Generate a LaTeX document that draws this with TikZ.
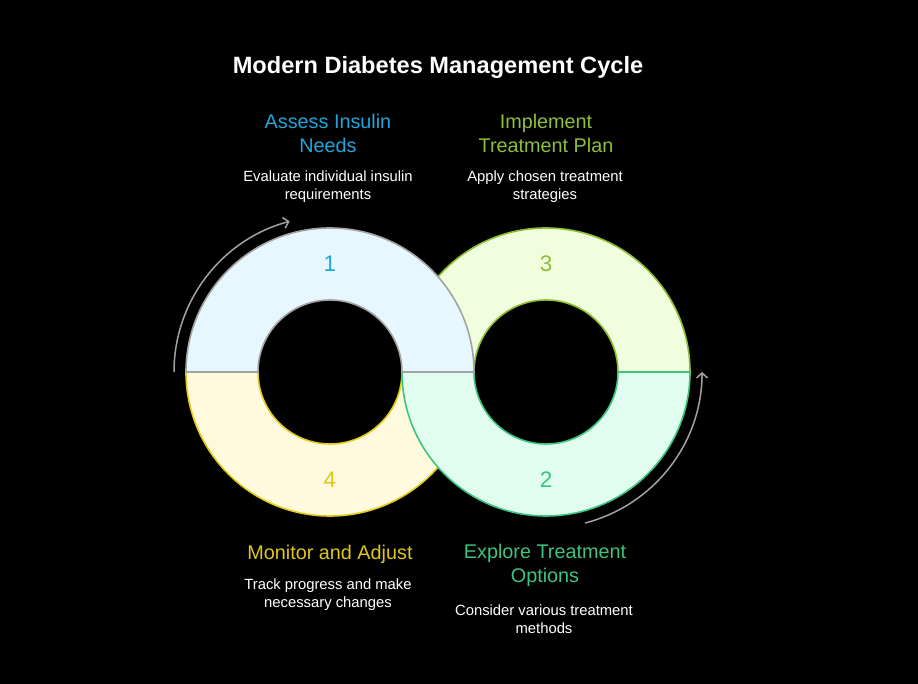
\documentclass[tikz,border=0pt]{standalone}
\usepackage{fontspec}
\setmainfont{Liberation Sans}
\usetikzlibrary{arrows.meta}
\definecolor{bluefill}{HTML}{E6F7FF}
\definecolor{bluetext}{HTML}{22A5DA}
\definecolor{ringgray}{HTML}{A3A3A3}
\definecolor{limefill}{HTML}{F1FEDD}
\definecolor{limeline}{HTML}{8DBE2E}
\definecolor{limetext}{HTML}{8DBF3A}
\definecolor{greenfill}{HTML}{E0FDEF}
\definecolor{greenline}{HTML}{3DC47E}
\definecolor{yellowfill}{HTML}{FFF9DD}
\definecolor{yellowline}{HTML}{E3CB1A}
\definecolor{yellowtext}{HTML}{DFC618}

\begin{document}
\begin{tikzpicture}[x=1pt, y=1pt,
  ring/.style={line width=1.6pt},
  num/.style={font=\fontsize{22.5}{26}\selectfont},
  head/.style={align=center, font=\fontsize{19.8}{24}\selectfont},
  desc/.style={align=center, text=white, font=\fontsize{14.8}{18}\selectfont},
  turn/.style={draw=ringgray, line width=1.5pt, -{Straight Barb[length=5pt, width=11pt]}}]
  \fill [black] (0,0) rectangle (918,684);
  \useasboundingbox (0,0) rectangle (918,684);
  % half rings, back to front
  \draw [ring, fill=limefill, draw=limeline] (690,312) arc (0:180:144) -- (474,312) arc (180:0:72) -- cycle;
  \draw [ring, fill=yellowfill, draw=yellowline] (186,312) arc (180:360:144) -- (402,312) arc (360:180:72) -- cycle;
  \draw [ring, fill=greenfill, draw=greenline] (402,312) arc (180:360:144) -- (618,312) arc (360:180:72) -- cycle;
  \draw [ring, fill=bluefill, draw=ringgray] (474,312) arc (0:180:144) -- (258,312) arc (180:0:72) -- cycle;
  % step numbers
  \node (n1) at (330,420) [num, text=bluetext] {1};
  \node (n3) at (546,420) [num, text=limetext] {3};
  \node (n4) at (330,204) [num, text=yellowtext] {4};
  \node (n2) at (546,204) [num, text=greenline] {2};
  % cycle arrows
  \coordinate (leftstart) at (174,312);
  \coordinate (rightstart) at (585.1,161);
  \draw [turn] (leftstart) arc [start angle=180, end angle=105, radius=156];
  \draw [turn] (rightstart) arc [start angle=-75.5, end angle=0, radius=156];
  % texts
  \node (title) at (438,617) [text=white, font=\fontsize{23.6}{28}\selectfont\bfseries] {Modern Diabetes Management Cycle};
  \node (assess) at (328,551) [head, text=bluetext] {Assess Insulin\\Needs};
  \node (assessd) at (328,497) [desc] {Evaluate individual insulin\\requirements};
  \node (implement) at (546,551) [head, text=limetext] {Implement\\Treatment Plan};
  \node (implementd) at (545,497) [desc] {Apply chosen treatment\\strategies};
  \node (monitor) at (330,130) [head, text=yellowtext] {Monitor and Adjust};
  \node (monitord) at (328,89) [desc] {Track progress and make\\necessary changes};
  \node (explore) at (545,119) [head, text=greenline] {Explore Treatment\\Options};
  \node (explored) at (544,65) [desc] {Consider various treatment\\methods};
\end{tikzpicture}
\end{document}
